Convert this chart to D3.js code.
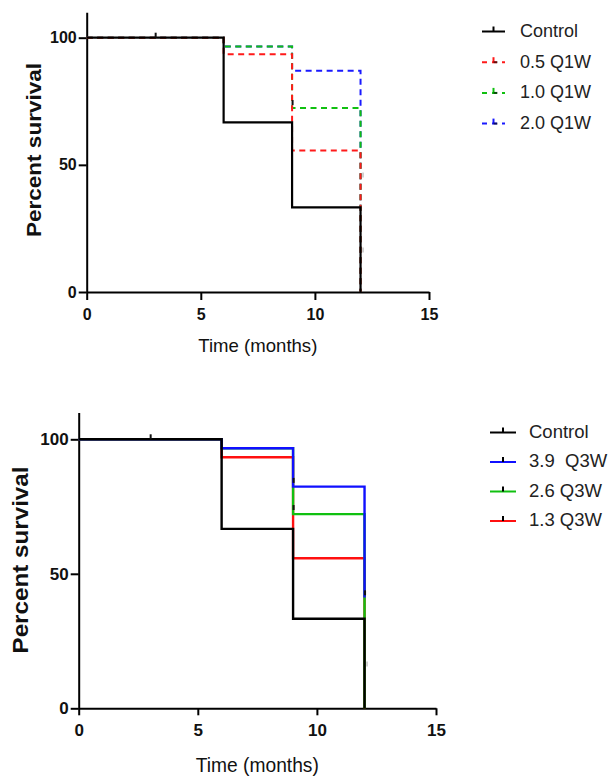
<!DOCTYPE html>
<html>
<head>
<meta charset="utf-8">
<script src="https://cdn.jsdelivr.net/npm/d3@7"></script>
<style>
  html, body { margin: 0; padding: 0; background: #fff; }
  svg { display: block; }
  text { font-family: "Liberation Sans", Arial, sans-serif; }
</style>
</head>
<body>
<svg id="chart" width="615" height="778"></svg>
<script>
// Event times (months) at which survival steps down
const months = [0, 6, 9, 12];
const xTicks = [0, 5, 10, 15];
const yTicks = [0, 50, 100];

// Weekly dosing panel (percent survival at each event time)
const q1wNames = ["Control", "0.5 Q1W", "1.0 Q1W", "2.0 Q1W"];
const q1wControl = [100, 66.7, 33.3, 0];
const q1w05 = [100, 93.5, 55.6, 0];
const q1w10 = [100, 96.5, 72.4, 0];
const q1w20 = [100, 96.5, 87.0, 0];
// censored observations: [month, percent]
const q1wCensorDark = [[3, 100], [9, 73.5]];
const q1wCensorFaint = [[12, 45], [12, 15.5]];

// Every-three-weeks dosing panel
const q3wNames = ["Control", "3.9  Q3W", "2.6 Q3W", "1.3 Q3W"];
const q3wControl = [100, 66.7, 33.3, 0];
const q3w39 = [100, 96.7, 82.4, 41.2];
const q3w26 = [100, 96.7, 72.2, 0];
const q3w13 = [100, 93.3, 55.8, 0];
const q3wCensorDark = [[3, 100], [9, 83.8], [9, 73.7], [12, 42]];
const q3wCensorFaint = [[12, 15.5]];

const svg = d3.select("#chart");

function drawPanel(p) {
  const x = d3.scaleLinear().domain([0, 15]).range([p.x0, p.x1]);
  const y = d3.scaleLinear().domain([0, 110]).range([p.y0, p.y0 - 110 * p.k]);
  const g = svg.append("g");

  // y axis
  const ya = g.append("g").attr("transform", `translate(${p.x0},0)`)
    .call(d3.axisLeft(y).tickValues(yTicks).tickSize(8).tickPadding(2).tickSizeOuter(0));
  // x axis
  const xa = g.append("g").attr("transform", `translate(0,${p.y0})`)
    .call(d3.axisBottom(x).tickValues(xTicks).tickSize(p.xTickLen).tickPadding(p.xPad).tickSizeOuter(0));
  [ya, xa].forEach(a => {
    a.select(".domain").attr("stroke", "#000").attr("stroke-width", 2);
    a.selectAll(".tick line").attr("stroke", "#000").attr("stroke-width", 2);
    a.selectAll(".tick text")
      .attr("fill", "#111")
      .style("font-size", p.tickFont + "px")
      .style("font-weight", "bold");
  });

  // axis titles
  g.append("text")
    .attr("x", (p.x0 + p.x1) / 2).attr("y", p.xTitleY)
    .attr("text-anchor", "middle")
    .attr("textLength", p.xTitleLen).attr("lengthAdjust", "spacingAndGlyphs")
    .style("font-size", p.xTitleFont + "px").attr("fill", "#111")
    .text("Time (months)");
  g.append("text")
    .attr("transform", `translate(${p.yTitleX},${p.yTitleC}) rotate(-90)`)
    .attr("text-anchor", "middle")
    .attr("textLength", p.yTitleLen).attr("lengthAdjust", "spacingAndGlyphs")
    .style("font-size", p.yTitleFont + "px").style("font-weight", "bold").attr("fill", "#111")
    .text("Percent survival");

  const line = d3.line().x(d => x(d[0])).y(d => y(d[1])).curve(d3.curveStepAfter);

  // curves, drawn bottom to top
  p.series.slice().sort((a, b) => a.z - b.z).forEach(s => {
    g.append("path")
      .datum(months.map((m, i) => [m, s.values[i]]))
      .attr("d", line)
      .attr("fill", "none")
      .attr("stroke", s.color)
      .attr("stroke-width", s.width)
      .attr("stroke-dasharray", s.dash || null);
  });

  // censor ticks
  const tick = (pts, color, dx, w) => g.selectAll(null).data(pts).enter().append("line")
    .attr("x1", d => x(d[0]) + dx).attr("x2", d => x(d[0]) + dx)
    .attr("y1", d => y(d[1])).attr("y2", d => y(d[1]) - 5)
    .attr("stroke", color).attr("stroke-width", w);
  tick(p.censorDark, "#111", 0.5, 2);
  tick(p.censorFaint, "#c4c4c4", 2.5, 1.5);

  // legend
  const lg = g.append("g");
  p.series.forEach((s, i) => {
    const cy = p.legY + i * p.legStep;
    lg.append("line")
      .attr("x1", p.legX0).attr("x2", p.legX1).attr("y1", cy).attr("y2", cy)
      .attr("stroke", s.color).attr("stroke-width", 2)
      .attr("stroke-dasharray", s.dash ? "5,5" : null);
    const mx = (p.legX0 + p.legX1) / 2;
    lg.append("line")
      .attr("x1", mx).attr("x2", mx).attr("y1", cy).attr("y2", cy - 5)
      .attr("stroke", s.dash ? s.color : "#000").attr("stroke-width", 2);
    if (s.dash) {
      lg.append("line")
        .attr("x1", mx).attr("x2", mx + 4).attr("y1", cy).attr("y2", cy)
        .attr("stroke", "#000").attr("stroke-width", 2).attr("stroke-opacity", 0.6);
    }
    lg.append("text")
      .attr("x", p.legTextX).attr("y", cy - 1).attr("dy", "0.35em")
      .style("font-size", p.legFont + "px").style("white-space", "pre")
      .attr("xml:space", "preserve").attr("fill", "#222")
      .text(s.name);
  });
}

drawPanel({
  x0: 86.7, x1: 429, y0: 292, k: 2.543,
  xTickLen: 8, xPad: 9, tickFont: 16,
  xTitleY: 352, xTitleLen: 119, xTitleFont: 19,
  yTitleX: 41, yTitleC: 150, yTitleLen: 174, yTitleFont: 21,
  series: [
    { name: q1wNames[0], values: q1wControl, color: "#000", width: 2.2, z: 4 },
    { name: q1wNames[1], values: q1w05, color: "#ff1a1a", width: 2, dash: "6,4.5", z: 3 },
    { name: q1wNames[2], values: q1w10, color: "#10c010", width: 2, dash: "6,4.5", z: 2 },
    { name: q1wNames[3], values: q1w20, color: "#1a1aff", width: 2, dash: "6,4.5", z: 1 }
  ],
  censorDark: q1wCensorDark, censorFaint: q1wCensorFaint,
  legX0: 482, legX1: 505, legTextX: 520, legY: 31.5, legStep: 30.7, legFont: 18
});

drawPanel({
  x0: 78.7, x1: 436, y0: 708.3, k: 2.69,
  xTickLen: 7, xPad: 9, tickFont: 17,
  xTitleY: 771.7, xTitleLen: 123, xTitleFont: 20,
  yTitleX: 28, yTitleC: 560, yTitleLen: 187, yTitleFont: 22,
  series: [
    { name: q3wNames[0], values: q3wControl, color: "#000", width: 2.4, z: 4 },
    { name: q3wNames[1], values: q3w39, color: "#1010ff", width: 2.4, z: 3 },
    { name: q3wNames[2], values: q3w26, color: "#10c010", width: 2.4, z: 2 },
    { name: q3wNames[3], values: q3w13, color: "#ff1010", width: 2.4, z: 1 }
  ],
  censorDark: q3wCensorDark, censorFaint: q3wCensorFaint,
  legX0: 490, legX1: 516, legTextX: 529, legY: 432.5, legStep: 29.5, legFont: 18.5
});
</script>
</body>
</html>
